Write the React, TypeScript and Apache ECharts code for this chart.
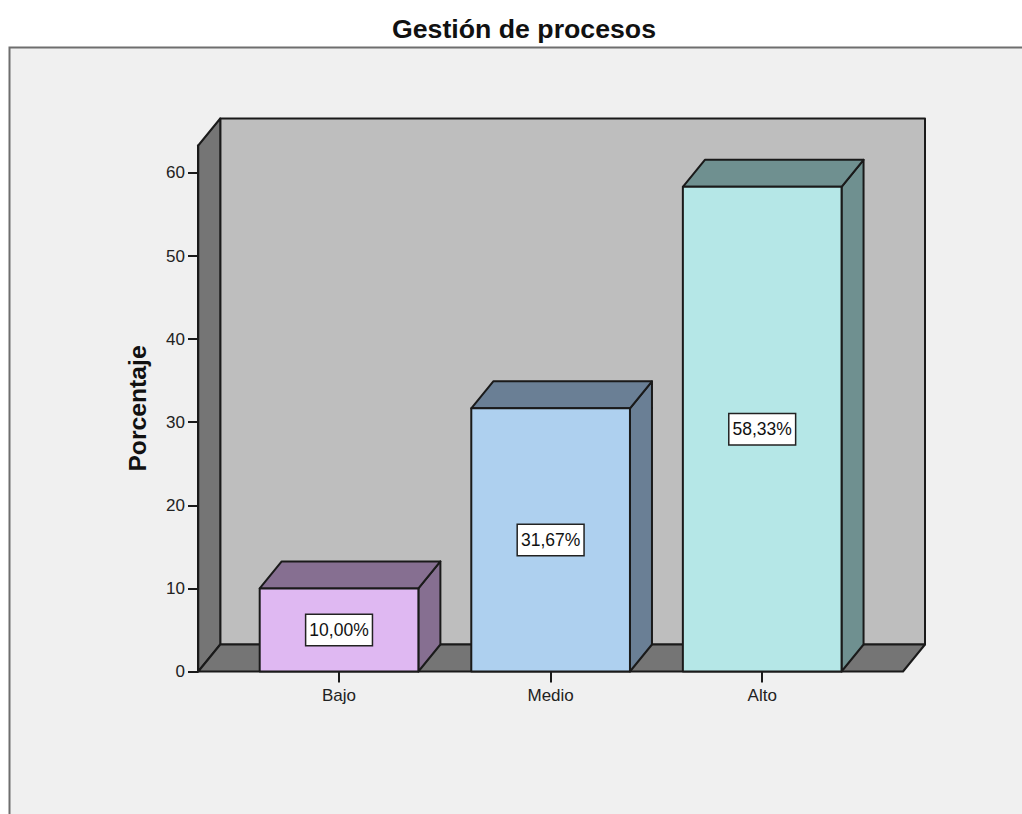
import React, { useEffect, useRef } from "react";
import * as echarts from "echarts";

const chartTitle = "Gestión de procesos";
const yAxisName = "Porcentaje";
const categories = ["Bajo", "Medio", "Alto"];
const percentages = [10.0, 31.67, 58.33];
const barLabels = ["10,00%", "31,67%", "58,33%"];
const yTicks = [0, 10, 20, 30, 40, 50, 60];
const frontColors = ["#dfb8f2", "#aed0ef", "#b5e7e7"];
const shadeColors = ["#866f91", "#6a7f95", "#6f9090"];

const FONT = "'Liberation Sans', Arial, sans-serif";
const INK = "#1a1a1a";
const DX = 22; // 3D depth, horizontal
const DY = 27; // 3D depth, vertical
const SIDE = 35; // frame overhang beyond the category band

function poly(points: number[][], fill: string) {
  return {
    type: "polygon",
    shape: { points },
    style: { fill, stroke: INK, lineWidth: 2, lineJoin: "round" },
  };
}

function renderWalls(params: any) {
  const c = params.coordSys;
  const l = c.x - SIDE;
  const r = c.x + c.width + SIDE;
  const t = c.y;
  const b = c.y + c.height;
  return {
    type: "group",
    children: [
      poly([[l + DX, t - DY], [r + DX, t - DY], [r + DX, b - DY], [l + DX, b - DY]], "#bebebe"),
      poly([[l, t], [l + DX, t - DY], [l + DX, b - DY], [l, b]], "#757575"),
      poly([[l, b], [l + DX, b - DY], [r + DX, b - DY], [r, b]], "#757575"),
    ],
  };
}

function renderBar(params: any, api: any) {
  const i = params.dataIndex;
  const top = api.coord([api.value(0), api.value(1)]);
  const base = api.coord([api.value(0), 0]);
  const w = api.size([1, 0])[0] * 0.75;
  const x0 = top[0] - w / 2;
  const x1 = top[0] + w / 2;
  const y0 = top[1];
  const y1 = base[1];
  return {
    type: "group",
    children: [
      poly([[x1, y0], [x1 + DX, y0 - DY], [x1 + DX, y1 - DY], [x1, y1]], shadeColors[i]),
      poly([[x0, y0], [x0 + DX, y0 - DY], [x1 + DX, y0 - DY], [x1, y0]], shadeColors[i]),
      poly([[x0, y0], [x1, y0], [x1, y1], [x0, y1]], frontColors[i]),
      {
        type: "text",
        x: top[0],
        y: (y0 + y1) / 2,
        style: {
          text: barLabels[i],
          align: "center",
          verticalAlign: "middle",
          fontFamily: FONT,
          fontSize: 17.5,
          fill: "#111",
          backgroundColor: "#ffffff",
          borderColor: "#222",
          borderWidth: 1.5,
          padding: [6, 3, 6, 3],
        },
      },
    ],
  };
}

export default function App() {
  const ref = useRef<HTMLDivElement>(null);
  useEffect(() => {
    const chart = echarts.init(ref.current!, null, { renderer: "svg" });
    chart.setOption({
      animation: false,
      backgroundColor: "#ffffff",
      title: {
        text: chartTitle,
        left: 519,
        top: 10,
        textAlign: "center",
        textStyle: { fontFamily: FONT, fontSize: 26.7, fontWeight: "bold", color: "#111" },
      },
      graphic: [
        {
          type: "rect",
          z: -10,
          shape: { x: 9.5, y: 47.5, width: 1100, height: 900 },
          style: { fill: "#f0f0f0", stroke: "#6e6e6e", lineWidth: 2 },
        },
      ],
      grid: { left: 233.25, right: 154, top: 145.5, bottom: 142.5 },
      xAxis: {
        type: "category",
        data: categories,
        axisLine: { show: false },
        axisTick: { show: true, alignWithLabel: true, length: 11, lineStyle: { color: INK, width: 2 } },
        axisLabel: { fontFamily: FONT, fontSize: 17, color: "#222", margin: 15 },
      },
      yAxis: {
        type: "value",
        min: 0,
        max: 63.3,
        offset: 35.25,
        name: yAxisName,
        nameLocation: "middle",
        nameGap: 48,
        nameTextStyle: { fontFamily: FONT, fontSize: 24.7, fontWeight: "bold", color: "#111" },
        splitLine: { show: false },
        axisLine: { show: true, lineStyle: { color: INK, width: 2 } },
        axisTick: { show: true, length: 10, customValues: yTicks, lineStyle: { color: INK, width: 2 } },
        axisLabel: { fontFamily: FONT, fontSize: 17, color: "#222", margin: 13, customValues: yTicks },
      },
      series: [
        {
          type: "custom",
          z: 1,
          silent: true,
          renderItem: renderWalls,
          data: [[categories[0], 0]],
          encode: { x: 0, y: 1 },
        },
        {
          type: "custom",
          z: 3,
          renderItem: renderBar,
          data: categories.map((c, i) => [c, percentages[i]]),
          encode: { x: 0, y: 1 },
        },
      ],
    });
    return () => chart.dispose();
  }, []);
  return <div ref={ref} style={{ position: "absolute", left: 0, top: 0, width: 1022, height: 814 }} />;
}
